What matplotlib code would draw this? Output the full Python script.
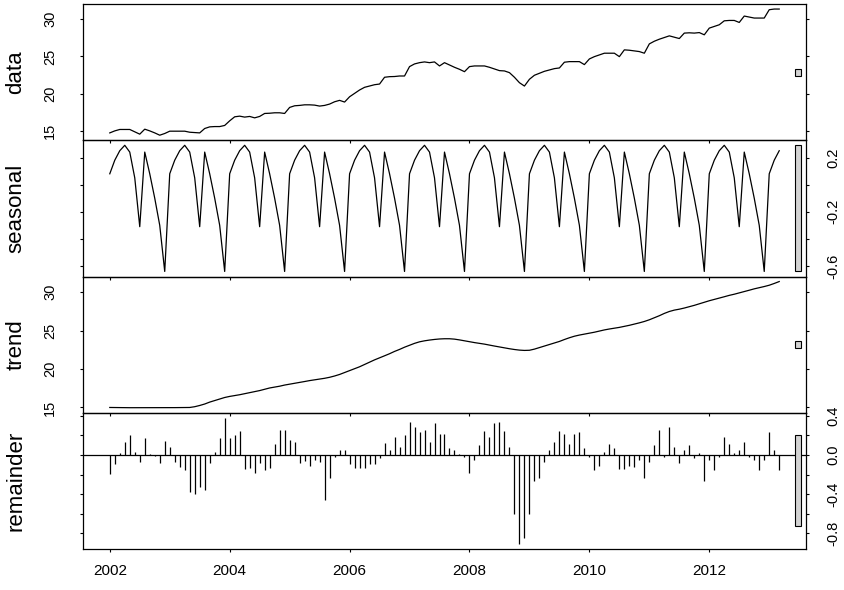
import matplotlib.pyplot as plt
import numpy as np
from matplotlib.patches import Rectangle
from matplotlib.ticker import FixedLocator, FixedFormatter

plt.rcParams['font.family'] = ['Liberation Sans', 'DejaVu Sans']

# monthly series, Jan 2002 .. Mar 2013 (STL decomposition)
start_year = 2002

data_vals = [
    14.73, 15.00, 15.19, 15.19, 15.19, 14.87, 14.56, 15.23, 15.00, 14.73, 14.42, 14.65,
    14.96, 14.96, 14.96, 14.96, 14.82, 14.78, 14.73, 15.32, 15.54, 15.58, 15.58, 15.73,
    16.35, 16.89, 16.98, 16.85, 16.94, 16.75, 16.94, 17.34, 17.37, 17.43, 17.43, 17.34,
    18.15, 18.37, 18.42, 18.50, 18.50, 18.46, 18.33, 18.42, 18.60, 18.91, 19.10, 18.87,
    19.58, 20.04, 20.49, 20.85, 21.02, 21.20, 21.29, 22.20, 22.28, 22.30, 22.37, 22.37,
    23.63, 23.99, 24.16, 24.26, 24.16, 24.26, 23.72, 24.16, 23.85, 23.54, 23.27, 22.95,
    23.63, 23.72, 23.72, 23.72, 23.54, 23.32, 23.09, 23.05, 22.82, 22.20, 21.47, 21.02,
    21.93, 22.47, 22.74, 23.00, 23.18, 23.36, 23.45, 24.22, 24.30, 24.30, 24.30, 23.90,
    24.66, 24.97, 25.20, 25.43, 25.43, 25.43, 24.97, 25.88, 25.83, 25.74, 25.65, 25.43,
    26.68, 27.04, 27.31, 27.53, 27.76, 27.58, 27.40, 28.13, 28.17, 28.13, 28.20, 27.90,
    28.80, 29.02, 29.25, 29.78, 29.83, 29.83, 29.56, 30.42, 30.28, 30.15, 30.15, 30.15,
    31.27, 31.36, 31.36,
]

seasonal_vals = [
    0.08, 0.18, 0.25, 0.29, 0.24, 0.05, -0.31, 0.24, 0.08, -0.10, -0.30, -0.64,
    0.08, 0.18, 0.25, 0.29, 0.24, 0.05, -0.31, 0.24, 0.08, -0.10, -0.30, -0.64,
    0.08, 0.18, 0.25, 0.29, 0.24, 0.05, -0.31, 0.24, 0.08, -0.10, -0.30, -0.64,
    0.08, 0.18, 0.25, 0.29, 0.24, 0.05, -0.31, 0.24, 0.08, -0.10, -0.30, -0.64,
    0.08, 0.18, 0.25, 0.29, 0.24, 0.05, -0.31, 0.24, 0.08, -0.10, -0.30, -0.64,
    0.08, 0.18, 0.25, 0.29, 0.24, 0.05, -0.31, 0.24, 0.08, -0.10, -0.30, -0.64,
    0.08, 0.18, 0.25, 0.29, 0.24, 0.05, -0.31, 0.24, 0.08, -0.10, -0.30, -0.64,
    0.08, 0.18, 0.25, 0.29, 0.24, 0.05, -0.31, 0.24, 0.08, -0.10, -0.30, -0.64,
    0.08, 0.18, 0.25, 0.29, 0.24, 0.05, -0.31, 0.24, 0.08, -0.10, -0.30, -0.64,
    0.08, 0.18, 0.25, 0.29, 0.24, 0.05, -0.31, 0.24, 0.08, -0.10, -0.30, -0.64,
    0.08, 0.18, 0.25, 0.29, 0.24, 0.05, -0.31, 0.24, 0.08, -0.10, -0.30, -0.64,
    0.08, 0.18, 0.25,
]

trend_vals = [
    15.00, 14.99, 14.98, 14.98, 14.97, 14.97, 14.97, 14.97, 14.97, 14.97, 14.97, 14.98,
    14.98, 14.98, 14.99, 14.99, 15.00, 15.10, 15.26, 15.45, 15.70, 15.90, 16.10, 16.30,
    16.44, 16.55, 16.66, 16.80, 16.93, 17.06, 17.20, 17.37, 17.54, 17.65, 17.77, 17.92,
    18.04, 18.15, 18.26, 18.38, 18.50, 18.60, 18.70, 18.80, 18.93, 19.10, 19.30, 19.55,
    19.80, 20.05, 20.30, 20.60, 20.90, 21.20, 21.46, 21.73, 22.00, 22.30, 22.56, 22.85,
    23.10, 23.35, 23.55, 23.68, 23.78, 23.86, 23.92, 23.95, 23.95, 23.90, 23.80, 23.68,
    23.55, 23.45, 23.35, 23.25, 23.12, 23.00, 22.88, 22.76, 22.65, 22.55, 22.47, 22.43,
    22.45, 22.60, 22.80, 23.00, 23.20, 23.40, 23.60, 23.85, 24.08, 24.28, 24.43, 24.55,
    24.68, 24.80, 24.95, 25.10, 25.22, 25.32, 25.43, 25.56, 25.70, 25.86, 26.02, 26.20,
    26.42, 26.68, 26.95, 27.25, 27.50, 27.68, 27.80, 27.95, 28.12, 28.30, 28.50, 28.70,
    28.90, 29.07, 29.25, 29.42, 29.60, 29.75, 29.92, 30.10, 30.27, 30.45, 30.60, 30.75,
    30.92, 31.15, 31.40,
]

remainder_vals = [
    -0.19, -0.09, 0.02, 0.13, 0.20, 0.03, -0.07, 0.17, 0.01, -0.01, -0.08, 0.14,
    0.08, -0.07, -0.12, -0.15, -0.38, -0.40, -0.33, -0.36, -0.08, 0.03, 0.17, 0.38,
    0.17, 0.20, 0.24, -0.14, -0.13, -0.18, -0.08, -0.15, -0.13, 0.11, 0.26, 0.26,
    0.15, 0.13, -0.08, -0.06, -0.11, -0.05, -0.07, -0.46, -0.24, -0.02, 0.05, 0.05,
    -0.09, -0.13, -0.13, -0.13, -0.09, -0.09, -0.03, 0.12, 0.05, 0.18, 0.08, 0.20,
    0.34, 0.29, 0.23, 0.26, 0.13, 0.33, 0.21, 0.21, 0.07, 0.05, 0.01, -0.02,
    -0.18, -0.05, 0.10, 0.24, 0.18, 0.33, 0.34, 0.24, 0.08, -0.60, -0.91, -0.85,
    -0.60, -0.27, -0.24, -0.07, 0.05, 0.13, 0.24, 0.21, 0.11, 0.21, 0.23, 0.07,
    -0.02, -0.15, -0.11, 0.03, 0.11, 0.07, -0.14, -0.14, -0.11, -0.12, -0.05, -0.24,
    -0.07, 0.10, 0.26, -0.02, 0.29, 0.08, -0.08, 0.05, 0.10, -0.03, 0.02, -0.27,
    -0.05, -0.15, -0.02, 0.18, 0.11, 0.02, 0.05, 0.13, -0.02, -0.05, -0.15, -0.05,
    0.23, 0.05, -0.15,
]

panel_names = ['data', 'seasonal', 'trend', 'remainder']
x_ticks = [2002, 2004, 2006, 2008, 2010, 2012]
y_ticks = {
    'data': [15, 20, 25, 30],
    'seasonal': [0.2, 0.0, -0.2, -0.4, -0.6],
    'trend': [15, 20, 25, 30],
    'remainder': [0.4, 0.2, 0.0, -0.2, -0.4, -0.6, -0.8],
}
y_labels = {
    'data': ['15', '20', '25', '30'],
    'seasonal': ['0.2', '', '-0.2', '', '-0.6'],
    'trend': ['15', '20', '25', '30'],
    'remainder': ['0.4', '', '0.0', '', '-0.4', '', '-0.8'],
}

series = {'data': np.array(data_vals), 'seasonal': np.array(seasonal_vals),
          'trend': np.array(trend_vals), 'remainder': np.array(remainder_vals)}
t = start_year + np.arange(len(data_vals)) / 12.0

# R-style x range: 4% padding
span = t[-1] - t[0]
xlim = (t[0] - 0.04 * span, t[-1] + 0.04 * span)

# range bar height = smallest component range
ranges = {k: (v.min(), v.max()) for k, v in series.items()}
mx = min(hi - lo for lo, hi in ranges.values())

fig = plt.figure(figsize=(8.45, 5.9), dpi=100, facecolor='white')
left, width = 83 / 845, 723 / 845
top = 1 - 4 / 590
h = (549 - 4) / 590 / 4

lw = 0.9
for i, name in enumerate(panel_names):
    ax = fig.add_axes([left, top - (i + 1) * h, width, h])
    ax.patch.set_alpha(0)
    y = series[name]
    if name == 'remainder':
        ax.axhline(0, color='black', lw=lw)
        ax.vlines(t, 0, y, color='black', lw=lw)
    else:
        ax.plot(t, y, color='black', lw=lw)
    lo, hi = ranges[name]
    pad = 0.04 * (hi - lo)
    ax.set_ylim(lo - pad, hi + pad)
    ax.set_xlim(*xlim)

    # grey range bar at the right edge
    dx = (xlim[1] - xlim[0]) / 64
    mid = (lo + hi) / 2
    ax.add_patch(Rectangle((xlim[1] - dx, mid - mx / 2), 0.6 * dx, mx,
                           facecolor='#d3d3d3', edgecolor='black', lw=0.8,
                           clip_on=False, zorder=3))

    for s in ax.spines.values():
        s.set_linewidth(0.9)
        s.set_color('black')

    ax.set_xticks(x_ticks)
    ax.tick_params(axis='x', direction='out', length=2.5, width=0.8,
                   labelsize=11, pad=8, labelbottom=(i == 3))
    ax.yaxis.set_major_locator(FixedLocator(y_ticks[name]))
    ax.yaxis.set_major_formatter(FixedFormatter(y_labels[name]))
    right_side = (i % 2 == 1)
    ax.tick_params(axis='y', which='both', direction='out', length=2.5, width=0.8,
                   left=True, right=True, labelleft=not right_side,
                   labelright=right_side, labelsize=10.5, labelrotation=90,
                   pad=12.5 if right_side else 16)
    for lab in ax.get_yticklabels():
        lab.set_va('center')

    cy = top - (i + 0.5) * h
    fig.text(16 / 845, cy, name, rotation=90, ha='center', va='center', fontsize=16)

fig.savefig('out.png', dpi=100)
